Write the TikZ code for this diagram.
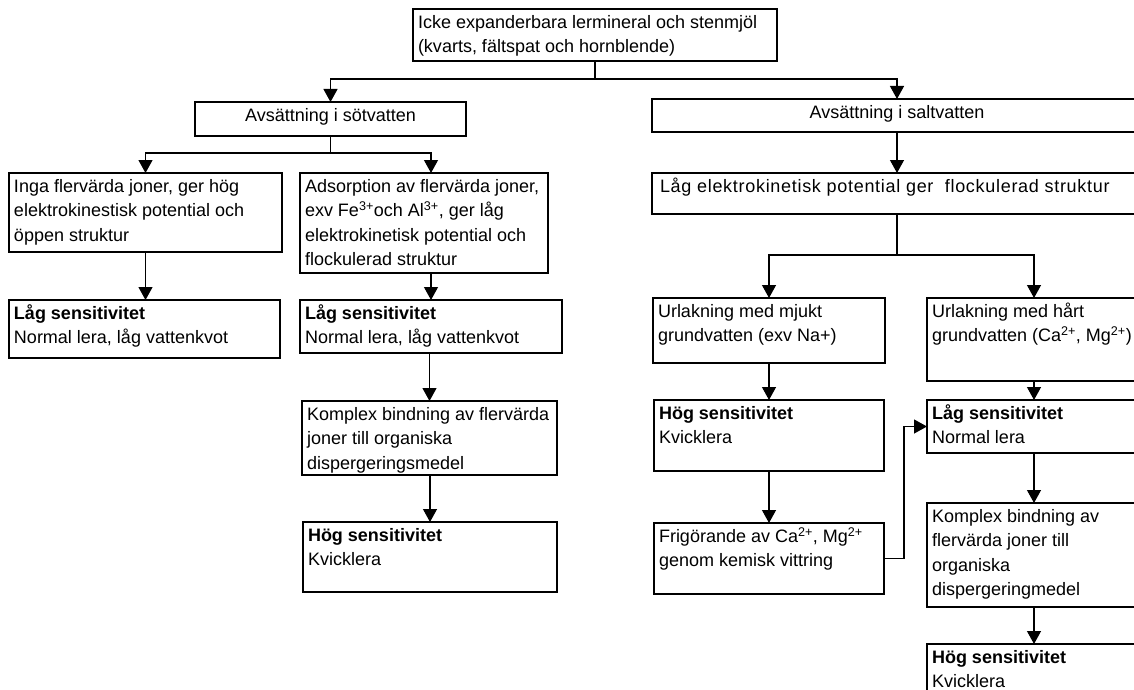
\documentclass[tikz,border=0pt]{standalone}
\usepackage{fontspec}
\setmainfont{Liberation Sans}
\usetikzlibrary{arrows.meta}
\newcommand\bt[3]{\parbox[t][#2pt][t]{#1pt}{\raggedright\leftskip=5pt\rule{0pt}{19.5pt}#3}}
\newcommand\ct[3]{\parbox[t][#2pt][t]{#1pt}{\centering\rule{0pt}{19.5pt}#3}}
\newcommand\sps[1]{\textsuperscript{#1}}
\begin{document}
\begin{tikzpicture}[x=1pt,y=-1pt,
  box/.style={draw, line width=1.2pt, inner sep=0pt, outer sep=0pt, anchor=north west, font=\fontsize{18}{24.3}\selectfont},
  arr/.style={line width=1.2pt, -{Triangle[width=14pt,length=13pt]}},
  ln/.style={line width=1.2pt}]
\fill[white] (0,0) rectangle (1134,690);
\useasboundingbox (0,0) rectangle (1134,690);
\clip (0,0) rectangle (1134,690);

\node[box] (top) at (413,9) {\bt{364}{52}{Icke expanderbara lermineral och stenmjöl\\(kvarts, fältspat och hornblende)}};
\node[box] (sot) at (195,102) {\ct{271}{34}{Avsättning i sötvatten}};
\node[box] (salt) at (652,99) {\ct{490}{33}{Avsättning i saltvatten}};
\node[box] (lek) at (652,173) {\parbox[t][41pt][t]{490pt}{\raggedright\leftskip=8pt\addfontfeatures{LetterSpace=3.9}\rule{0pt}{19.5pt}Låg elektrokinetisk potential ger\ \ flockulerad struktur}};
\node[box] (inga) at (9,173) {\bt{273}{79}{Inga flervärda joner, ger hög\\elektrokinestisk potential och\\öppen struktur}};
\node[box] (ads) at (300,173) {\bt{248}{100}{Adsorption av flervärda joner,\\exv Fe\sps{3+}och Al\sps{3+}, ger låg\\elektrokinetisk potential och\\flockulerad struktur}};
\node[box] (lsl) at (9,300) {\bt{271}{58}{\textbf{Låg sensitivitet}\\Normal lera, låg vattenkvot}};
\node[box] (lsm) at (300,300) {\bt{262}{53}{\textbf{Låg sensitivitet}\\Normal lera, låg vattenkvot}};
\node[box] (kom1) at (302,401) {\bt{255}{74}{Komplex bindning av flervärda\\joner till organiska\\dispergeringsmedel}};
\node[box] (hog1) at (303,522) {\bt{254}{70}{\textbf{Hög sensitivitet}\\Kvicklera}};
\node[box] (mj) at (653,298) {\bt{232}{65}{Urlakning med mjukt\\grundvatten (exv Na+)}};
\node[box] (hart) at (927,298) {\bt{214}{83}{Urlakning med hårt\\grundvatten (Ca\sps{2+}, Mg\sps{2+})}};
\node[box] (hog2) at (654,400) {\bt{230}{71}{\textbf{Hög sensitivitet}\\Kvicklera}};
\node[box] (frig) at (654,523) {\bt{230}{71}{Frigörande av Ca\sps{2+}, Mg\sps{2+}\\genom kemisk vittring}};
\node[box] (lsr) at (927,400) {\bt{214}{53}{\textbf{Låg sensitivitet}\\Normal lera}};
\node[box] (kom2) at (927,503) {\bt{214}{104}{Komplex bindning av\\flervärda joner till\\organiska\\dispergeringmedel}};
\node[box] (hog3) at (927,644) {\bt{214}{60}{\textbf{Hög sensitivitet}\\Kvicklera}};

\coordinate (j1) at (0,79);
\coordinate (j2) at (0,153);
\coordinate (j3) at (0,255);

\draw[ln] (top.south) -- (top.south |- j1);
\draw[arr] (top.south |- j1) -| (sot.north);
\draw[arr] (top.south |- j1) -| (salt.north);
\draw[ln] (sot.south) -- (sot.south |- j2);
\draw[arr] (sot.south |- j2) -| (inga.north);
\draw[arr] (sot.south |- j2) -| ([xshift=7pt]ads.north);
\draw[arr] (salt.south) -- (lek.north);
\draw[ln] (lek.south) -- (lek.south |- j3);
\draw[arr] (lek.south |- j3) -| (mj.north);
\draw[arr] (lek.south |- j3) -| (hart.north);
\draw[arr] (inga.south) -- (inga.south |- lsl.north);
\draw[arr] (lsm.north |- ads.south) -- (lsm.north);
\draw[arr] (kom1.north |- lsm.south) -- (kom1.north);
\draw[arr] (hog1.north |- kom1.south) -- (hog1.north);
\draw[arr] (mj.south) -- (mj.south |- hog2.north);
\draw[arr] (hog2.south) -- (frig.north);
\draw[arr] (hart.south) -- (lsr.north);
\draw[arr] (lsr.south) -- (kom2.north);
\draw[arr] (kom2.south) -- (hog3.north);
\draw[arr] (frig.east) -- ++(20,0) |- (lsr.west);
\end{tikzpicture}
\end{document}
